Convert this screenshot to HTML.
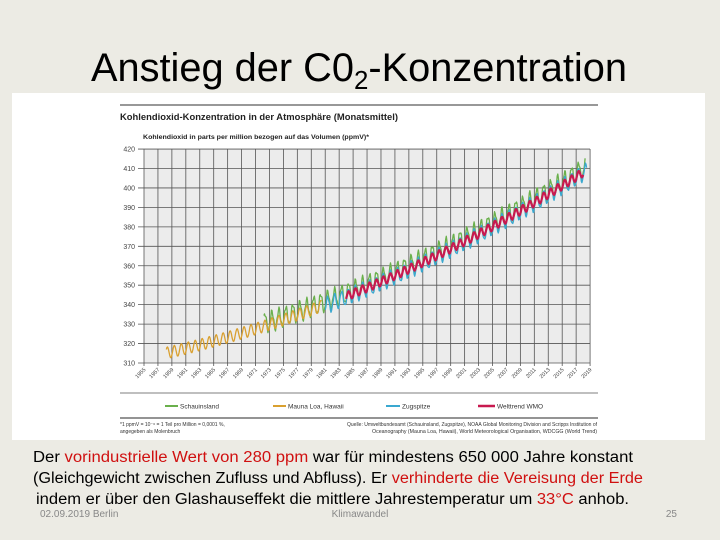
<!DOCTYPE html>
<html><head><meta charset="utf-8"><style>
html,body{margin:0;padding:0;width:720px;height:540px;overflow:hidden;background:#ecebe4;}
svg{display:block}
</style></head><body>
<svg id="s" width="720" height="540" xmlns="http://www.w3.org/2000/svg" font-family="Liberation Sans, sans-serif">
<rect width="720" height="540" fill="#ecebe4"/>
<text x="359" y="81" font-size="40" text-anchor="middle" fill="#000" textLength="536" lengthAdjust="spacingAndGlyphs">Anstieg der C0<tspan font-size="26" dy="8">2</tspan><tspan dy="-8">-Konzentration</tspan></text>
<rect x="12" y="93" width="693" height="347" fill="#fff"/>
<line x1="120" y1="105" x2="598" y2="105" stroke="#777" stroke-width="1.5"/>
<text x="120" y="120" font-size="9" font-weight="bold" fill="#222" textLength="278" lengthAdjust="spacingAndGlyphs">Kohlendioxid-Konzentration in der Atmosphäre (Monatsmittel)</text>
<text x="143" y="139" font-size="6.5" font-weight="bold" fill="#222" textLength="226" lengthAdjust="spacingAndGlyphs">Kohlendioxid in parts per million bezogen auf das Volumen (ppmV)*</text>
<rect x="144" y="149" width="446" height="214" fill="#ececec"/>
<g id="grid" stroke="#555" stroke-width="0.8"></g>
<g id="lab" font-size="7" fill="#444"></g>
<g id="data" fill="none" stroke-linejoin="round"></g>
<line x1="120" y1="393" x2="598" y2="393" stroke="#aaa" stroke-width="1.5"/>
<line x1="165" y1="406" x2="178" y2="406" stroke="#6ab04c" stroke-width="2"/>
<text x="180" y="408.5" font-size="6.5" fill="#333">Schauinsland</text>
<line x1="273" y1="406" x2="286" y2="406" stroke="#d9a030" stroke-width="2"/>
<text x="288" y="408.5" font-size="6.5" fill="#333">Mauna Loa, Hawaii</text>
<line x1="386" y1="406" x2="400" y2="406" stroke="#3aa8d0" stroke-width="2"/>
<text x="402" y="408.5" font-size="6.5" fill="#333">Zugspitze</text>
<line x1="478" y1="406" x2="495" y2="406" stroke="#c8194f" stroke-width="2.5"/>
<text x="497" y="408.5" font-size="6.5" fill="#333">Welttrend WMO</text>
<line x1="120" y1="418" x2="598" y2="418" stroke="#555" stroke-width="1.2"/>
<text x="120" y="426" font-size="5" fill="#333">*1 ppmV = 10⁻⁶ = 1 Teil pro Million = 0,0001 %,</text>
<text x="120" y="433" font-size="5" fill="#333">angegeben als Molenbruch</text>
<text x="597" y="426" font-size="5" fill="#333" text-anchor="end" textLength="250" lengthAdjust="spacingAndGlyphs">Quelle: Umweltbundesamt (Schauinsland, Zugspitze), NOAA Global Monitoring Division and Scripps Institution of</text>
<text x="597" y="433" font-size="5" fill="#333" text-anchor="end" textLength="225" lengthAdjust="spacingAndGlyphs">Oceanography (Mauna Loa, Hawaii), World Meteorological Organisation, WDCGG (World Trend)</text>
<g font-size="15.5" fill="#000">
<text x="33" y="462" textLength="600" lengthAdjust="spacingAndGlyphs">Der <tspan fill="#d01010">vorindustrielle Wert von 280 ppm</tspan> war für mindestens 650 000 Jahre konstant</text>
<text x="33" y="483" textLength="610" lengthAdjust="spacingAndGlyphs">(Gleichgewicht zwischen Zufluss und Abfluss). Er <tspan fill="#d01010">verhinderte die Vereisung der Erde</tspan></text>
<text x="36" y="504" textLength="593" lengthAdjust="spacingAndGlyphs">indem er über den Glashauseffekt die mittlere Jahrestemperatur um <tspan fill="#d01010">33°C</tspan> anhob.</text>
</g>
<g font-size="10" fill="#888">
<text x="40" y="517">02.09.2019 Berlin</text>
<text x="360" y="517" text-anchor="middle">Klimawandel</text>
<text x="677" y="517" text-anchor="end">25</text>
</g>
</svg>
<script>
var NS="http://www.w3.org/2000/svg";
function el(p,t,a,txt){var e=document.createElementNS(NS,t);for(var k in a)e.setAttribute(k,a[k]);if(txt)e.textContent=txt;document.getElementById(p).appendChild(e);return e;}
function X(t){return 144+(t-1955)*6.97;}
function Y(v){return 363-(v-310)*1.945;}
for(var v=310;v<=420;v+=10){el("grid","line",{x1:138,x2:590,y1:Y(v),y2:Y(v)});el("lab","text",{x:135,y:Y(v)+2.5,"text-anchor":"end"},v);}
for(var yr=1955;yr<=2019;yr+=2){el("grid","line",{x1:X(yr),x2:X(yr),y1:149,y2:366});
el("lab","text",{x:0,y:0,"font-size":"5.5","text-anchor":"end",transform:"translate("+(X(yr)+2)+",370) rotate(-45)"},yr);}
function tr(t){var d=t-1958;return 315+0.8*d+0.0125*d*d;}
function series(a,b,amp,off,col,w,noise){var d="";for(var t=a;t<=b;t+=1/12){var v=tr(t)+off+amp*Math.sin(2*Math.PI*(t-0.1))+noise*Math.sin(t*17.3);d+=(d?"L":"M")+X(t).toFixed(1)+","+Y(v).toFixed(1);}el("data","path",{d:d,stroke:col,"stroke-width":w});}
series(1972.2,2018.3,4.8,1.5,"#6ab04c",1.3,1.2);
series(1958.2,1980.5,3,0,"#d9a030",1.3,0);
series(1981,2018.5,4,-0.5,"#3aa8d0",1.3,0.6);
series(1984,2018.0,2.2,0,"#c8194f",2.2,0);
</script>
</body></html>
